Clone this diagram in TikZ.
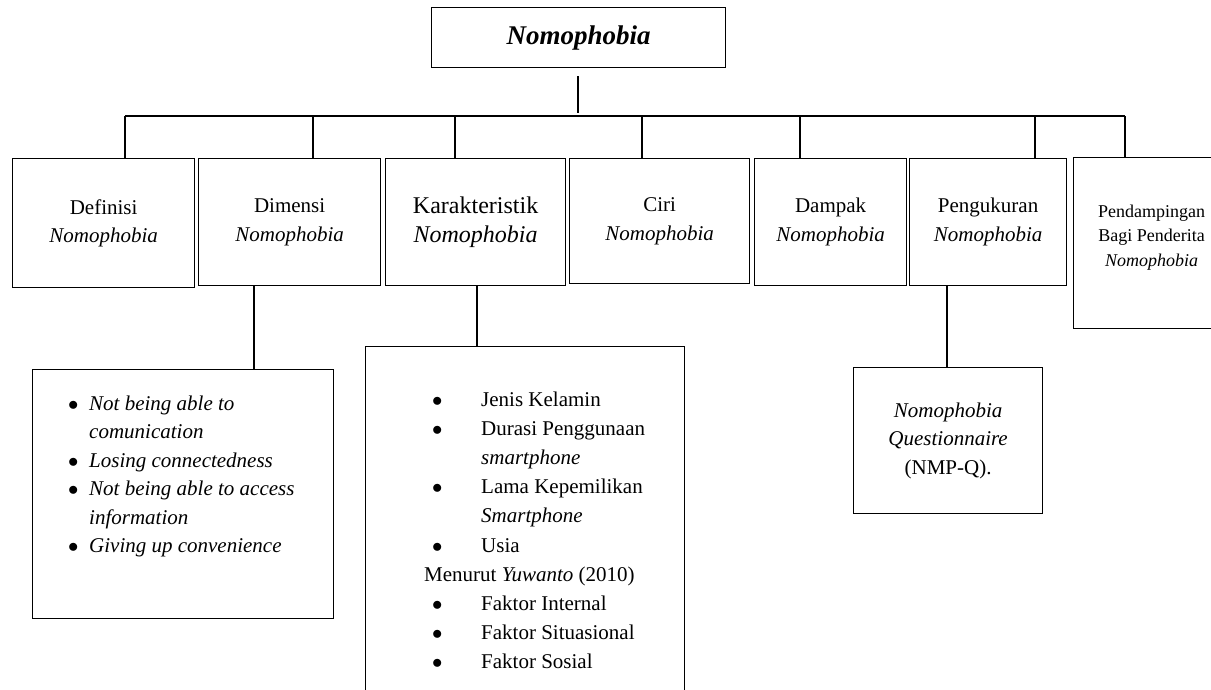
\documentclass[tikz,border=0pt]{standalone}
\usepackage{fontspec}
\setmainfont{Liberation Serif}
\usetikzlibrary{calc}
\newcommand{\blt}{$\bullet$}
\begin{document}
\begin{tikzpicture}[x=1pt,y=-1pt,
  box/.style={draw, line width=1.2pt, inner sep=0pt, anchor=north west, align=center, font=\fontsize{21}{28.5}\selectfont},
  conn/.style={line width=1.6pt},
  listtext/.style={anchor=base west, inner sep=0pt}]
\useasboundingbox (0,0) rectangle (1211,689);
\fill[white] (0,0) rectangle (1211,689);
\clip (0,0) rectangle (1211,689);

% top node
\node[box, minimum width=294pt, minimum height=60pt, font=\fontsize{27}{30}\selectfont\bfseries\itshape] (top) at (431,7) {Nomophobia};

% first row boxes
\node[box, minimum width=182pt, minimum height=129pt] (b1) at (12,158) {Definisi\\\textit{Nomophobia}};
\node[box, minimum width=182pt, minimum height=127pt] (b2) at (198,158) {Dimensi\\\textit{Nomophobia}};
\node[box, minimum width=180pt, minimum height=127pt, font=\fontsize{24}{29}\selectfont] (b3) at (385,158) {Karakteristik\\\textit{Nomophobia}};
\node[box, minimum width=180pt, minimum height=125pt] (b4) at (569,158) {Ciri\\\textit{Nomophobia}};
\node[box, minimum width=152pt, minimum height=127pt] (b5) at (754,158) {Dampak\\\textit{Nomophobia}};
\node[box, minimum width=157pt, minimum height=127pt] (b6) at (909,158) {Pengukuran\\\textit{Nomophobia}};
\node[box, minimum width=156pt, minimum height=171pt, font=\fontsize{18}{24.5}\selectfont, text depth=15pt] (b7) at (1073,157) {Pendampingan\\Bagi Penderita\\\textit{Nomophobia}};

% second row boxes
\node[box, minimum width=301pt, minimum height=249pt] (l2) at (32,369) {};
\node[box, minimum width=319pt, minimum height=380pt] (l3) at (365,346) {};
\node[box, minimum width=189pt, minimum height=146pt] (l6) at (853,367) {\textit{Nomophobia}\\\textit{Questionnaire}\\(NMP-Q).};

% list texts
\node[listtext, font=\fontsize{21}{28.5}\selectfont] (t2) at (68,410) {%
\begin{tabular}[t]{@{}p{21pt}@{}l@{}}
\blt & \textit{Not being able to}\\
 & \textit{comunication}\\
\blt & \textit{Losing connectedness}\\
\blt & \textit{Not being able to access}\\
 & \textit{information}\\
\blt & \textit{Giving up convenience}
\end{tabular}};

\node[listtext, font=\fontsize{21}{29.2}\selectfont] (t3) at (424,406) {%
\begin{tabular}[t]{@{}p{57pt}@{}l@{}}
\hspace*{8pt}\blt & Jenis Kelamin\\
\hspace*{8pt}\blt & Durasi Penggunaan\\
 & \textit{smartphone}\\
\hspace*{8pt}\blt & Lama Kepemilikan\\
 & \textit{Smartphone}\\
\hspace*{8pt}\blt & Usia\\
\multicolumn{2}{@{}l@{}}{Menurut \textit{Yuwanto} (2010)}\\
\hspace*{8pt}\blt & Faktor Internal\\
\hspace*{8pt}\blt & Faktor Situasional\\
\hspace*{8pt}\blt & Faktor Sosial
\end{tabular}};

% connectors
\coordinate (barL) at (125,116);
\coordinate (barR) at (1125,116);
\coordinate (c0) at (578,0);
\draw[conn] (barL) -- (barR);
\draw[conn, shorten <=8pt, shorten >=3pt] (c0 |- top.south) -- (c0 |- barL);
\foreach \x/\n in {125/b1,313/b2,455/b3,642/b4,800/b5,1035/b6,1125/b7}{
  \coordinate (d) at (\x,116);
  \draw[conn] (d) -- (d |- \n.north);
}
\coordinate (c2) at (254,0);
\coordinate (c3) at (477,0);
\coordinate (c6) at (947,0);
\draw[conn] (c2 |- b2.south) -- (c2 |- l2.north);
\draw[conn] (c3 |- b3.south) -- (c3 |- l3.north);
\draw[conn] (c6 |- b6.south) -- (c6 |- l6.north);
\end{tikzpicture}
\end{document}
